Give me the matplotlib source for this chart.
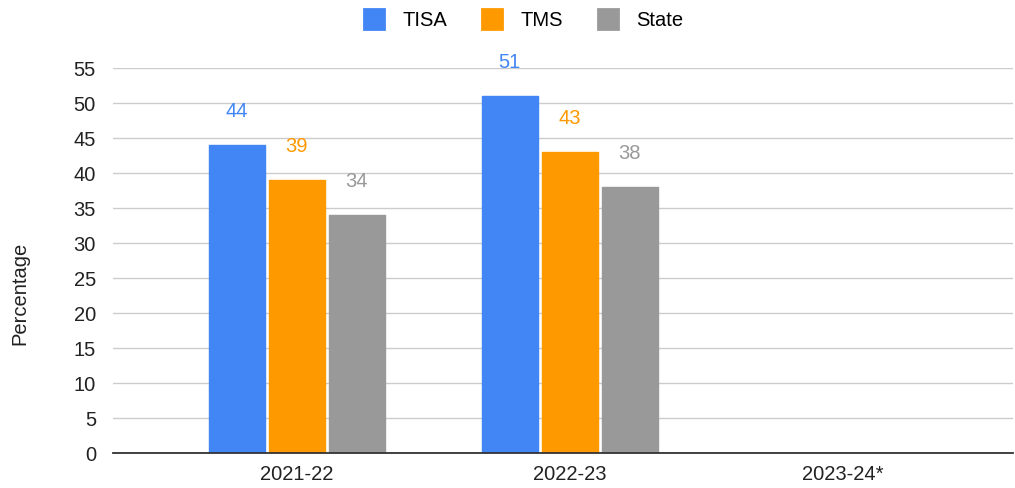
import numpy as np
import matplotlib.pyplot as plt
from matplotlib.patches import Patch

plt.rcParams['font.family'] = ['Liberation Sans', 'DejaVu Sans']

years = ['2021-22', '2022-23', '2023-24*']
tisa = [44, 51, None]
tms = [39, 43, None]
state = [34, 38, None]

series = [('TISA', tisa, '#4285F4'), ('TMS', tms, '#FF9900'), ('State', state, '#999999')]

fig = plt.figure(figsize=(10.15, 4.89), dpi=100)
ax = fig.add_axes([0.111, 0.0716, 0.887, 0.7873])

x = np.arange(len(years))
width = 0.205
step = 0.22
for i, (name, vals, color) in enumerate(series):
    xs = [xi + (i - 1) * step for xi, v in zip(x, vals) if v is not None]
    vs = [v for v in vals if v is not None]
    ax.bar(xs, vs, width, color=color, edgecolor=color, linewidth=1,
           joinstyle='round', zorder=3)
    for xx, v in zip(xs, vs):
        ax.annotate(str(v), (xx, v), xytext=(0, 25), textcoords='offset points',
                    ha='center', va='center', color=color, fontsize=14.5,
                    annotation_clip=False)

ax.set_xlim(-0.674, 2.623)
ax.set_ylim(0, 55)
ax.set_yticks(range(0, 56, 5))
ax.set_xticks(x)
ax.set_xticklabels(years)
ax.tick_params(axis='both', length=0, labelsize=14.5, colors='#222222')
ax.tick_params(axis='y', pad=12)
ax.tick_params(axis='x', pad=8)
ax.grid(axis='y', color='#cccccc', linewidth=1, zorder=0)
for s in ['top', 'right', 'left']:
    ax.spines[s].set_visible(False)
ax.spines['bottom'].set_color('#333333')
ax.spines['bottom'].set_linewidth(1.3)
ax.spines['bottom'].set_zorder(4)

fig.text(0.02, 0.4, 'Percentage', rotation=90, ha='center', va='center',
         fontsize=14.5, color='#222222')

handles = [Patch(facecolor=c, edgecolor=c, linewidth=2, joinstyle='round', label=n)
           for n, _, c in series]
fig.legend(handles=handles, loc='center', bbox_to_anchor=(0.516, 0.959), ncol=3,
           frameon=False, fontsize=14.5, handlelength=1.0, handleheight=1.15,
           columnspacing=1.75, handletextpad=0.9)

fig.savefig('out.png')
